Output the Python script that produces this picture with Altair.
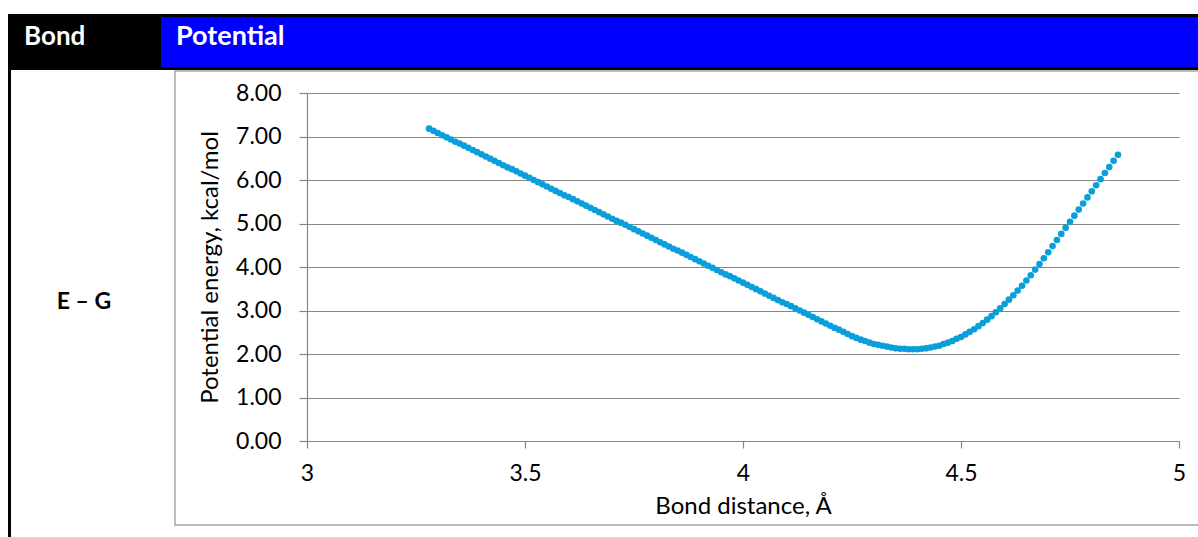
import altair as alt
import pandas as pd

# ---- data ----
bond_distance = [
    3.28, 3.29, 3.30, 3.31, 3.32, 3.33, 3.34, 3.35, 3.36, 3.37, 3.38, 3.39,
    3.40, 3.41, 3.42, 3.43, 3.44, 3.45, 3.46, 3.47, 3.48, 3.49,
    3.50, 3.51, 3.52, 3.53, 3.54, 3.55, 3.56, 3.57, 3.58, 3.59,
    3.60, 3.61, 3.62, 3.63, 3.64, 3.65, 3.66, 3.67, 3.68, 3.69,
    3.70, 3.71, 3.72, 3.73, 3.74, 3.75, 3.76, 3.77, 3.78, 3.79,
    3.80, 3.81, 3.82, 3.83, 3.84, 3.85, 3.86, 3.87, 3.88, 3.89,
    3.90, 3.91, 3.92, 3.93, 3.94, 3.95, 3.96, 3.97, 3.98, 3.99,
    4.00, 4.01, 4.02, 4.03, 4.04, 4.05, 4.06, 4.07, 4.08, 4.09,
    4.10, 4.11, 4.12, 4.13, 4.14, 4.15, 4.16, 4.17, 4.18, 4.19,
    4.20, 4.21, 4.22, 4.23, 4.24, 4.25, 4.26, 4.27, 4.28, 4.29,
    4.30, 4.31, 4.32, 4.33, 4.34, 4.35, 4.36, 4.37, 4.38, 4.39,
    4.40, 4.41, 4.42, 4.43, 4.44, 4.45, 4.46, 4.47, 4.48, 4.49,
    4.50, 4.51, 4.52, 4.53, 4.54, 4.55, 4.56, 4.57, 4.58, 4.59,
    4.60, 4.61, 4.62, 4.63, 4.64, 4.65, 4.66, 4.67, 4.68, 4.69,
    4.70, 4.71, 4.72, 4.73, 4.74, 4.75, 4.76, 4.77, 4.78, 4.79,
    4.80, 4.81, 4.82, 4.83, 4.84, 4.85, 4.86,
]

potential_energy = [
    7.18, 7.13, 7.08, 7.03, 6.98, 6.93, 6.88, 6.84, 6.79, 6.74,
    6.69, 6.64, 6.59, 6.54, 6.49, 6.44, 6.39, 6.34, 6.29, 6.25,
    6.20, 6.15, 6.10, 6.05, 6.00, 5.95, 5.90, 5.85, 5.80, 5.75,
    5.70, 5.65, 5.61, 5.56, 5.51, 5.46, 5.41, 5.36, 5.31, 5.26,
    5.21, 5.16, 5.11, 5.06, 5.02, 4.97, 4.92, 4.87, 4.82, 4.77,
    4.72, 4.67, 4.62, 4.57, 4.52, 4.47, 4.42, 4.38, 4.33, 4.28,
    4.23, 4.18, 4.13, 4.08, 4.03, 3.98, 3.93, 3.88, 3.83, 3.79,
    3.74, 3.69, 3.64, 3.59, 3.54, 3.49, 3.44, 3.39, 3.34, 3.29,
    3.24, 3.19, 3.15, 3.10, 3.05, 3.00, 2.95, 2.90, 2.85, 2.80,
    2.75, 2.70, 2.65, 2.60, 2.56, 2.51,
    2.46, 2.41, 2.37, 2.33, 2.30, 2.26, 2.23, 2.21, 2.19, 2.17,
    2.15, 2.13, 2.12, 2.12, 2.11, 2.11,
    2.11, 2.12, 2.13, 2.15, 2.17, 2.19, 2.23, 2.26, 2.30, 2.35,
    2.39, 2.45, 2.51, 2.57, 2.64, 2.71, 2.79, 2.87, 2.96, 3.05,
    3.15, 3.25, 3.35, 3.46, 3.57, 3.69, 3.81, 3.94, 4.07, 4.20, 4.34,
    4.48, 4.62, 4.76, 4.90, 5.04, 5.18, 5.32, 5.46, 5.60, 5.74,
    5.88, 6.02, 6.16, 6.30, 6.44, 6.58,
]

x_ticks = [3, 3.5, 4, 4.5, 5]
y_ticks = [0, 1, 2, 3, 4, 5, 6, 7, 8]

header_left = "Bond"
header_right = "Potential"
row_label = "E – G"
x_title = "Bond distance, Å"
y_title = "Potential energy, kcal/mol"

FONT = "Lato"
GRAY = "#868686"
POINT = "#0a9fdb"

df = pd.DataFrame({"r": bond_distance, "E": potential_energy})
one = pd.DataFrame({"a": [0]})

# plot area origin sits at (307, 93) in the page; 872 x 348
W, H = 872, 348
L, T = 307, 93


def px(v):
    return v - L


def py(v):
    return v - T


frame = alt.Chart(one).mark_rect(fillOpacity=0, stroke="#a6a6a6", strokeWidth=1.5).encode(
    x=alt.value(px(175)), x2=alt.value(px(1215)), y=alt.value(py(71)), y2=alt.value(py(525))
)

head_black = alt.Chart(one).mark_rect(color="black").encode(
    x=alt.value(px(8)), x2=alt.value(px(1200)), y=alt.value(py(14)), y2=alt.value(py(70))
)
head_blue = alt.Chart(one).mark_rect(color="#0000ff").encode(
    x=alt.value(px(161)), x2=alt.value(px(1200)), y=alt.value(py(17)), y2=alt.value(py(67))
)
left_border = alt.Chart(one).mark_rect(color="black").encode(
    x=alt.value(px(8)), x2=alt.value(px(11)), y=alt.value(py(69)), y2=alt.value(py(540))
)

txt_bond = alt.Chart(one).mark_text(
    text=header_left, align="left", baseline="middle", font=FONT, fontWeight="bold",
    fontSize=26, color="white"
).encode(x=alt.value(px(24)), y=alt.value(py(37)))
txt_pot = alt.Chart(one).mark_text(
    text=header_right, align="left", baseline="middle", font=FONT, fontWeight="bold",
    fontSize=27, color="white"
).encode(x=alt.value(px(176)), y=alt.value(py(37)))
txt_row = alt.Chart(one).mark_text(
    text=row_label, align="center", baseline="middle", font=FONT, fontWeight="bold",
    fontSize=23, color="black"
).encode(x=alt.value(px(84)), y=alt.value(py(302)))

points = alt.Chart(df).mark_circle(size=44, opacity=1, color=POINT).encode(
    x=alt.X(
        "r:Q",
        scale=alt.Scale(domain=[3, 5], nice=False, zero=False),
        axis=alt.Axis(
            values=x_ticks, format=".1~f", title=x_title, grid=False,
            tickSize=7, labelPadding=14, titlePadding=9,
        ),
    ),
    y=alt.Y(
        "E:Q",
        scale=alt.Scale(domain=[0, 8], nice=False, zero=True),
        axis=alt.Axis(
            values=y_ticks, format=".2f", title=y_title, grid=True,
            tickSize=8, labelPadding=18, titlePadding=13,
        ),
    ),
)

chart = (
    alt.layer(frame, head_black, head_blue, left_border, txt_bond, txt_pot, txt_row, points)
    .properties(
        width=W, height=H,
        autosize=alt.AutoSizeParams(type="none"),
        padding={"left": L, "top": T, "right": 1198 - L - W, "bottom": 537 - T - H},
        background="white",
    )
    .configure_view(stroke=None)
    .configure_axis(
        domainColor=GRAY, tickColor=GRAY, gridColor=GRAY, domainWidth=1.2, tickWidth=1.2,
        gridWidth=1.2, labelFont=FONT, labelFontSize=23, labelColor="black",
        titleFont=FONT, titleFontSize=24, titleFontWeight="normal", titleColor="black",
        labelFlush=False,
    )
)

chart.save("out.html", embed_options={"renderer": "svg", "actions": False})
